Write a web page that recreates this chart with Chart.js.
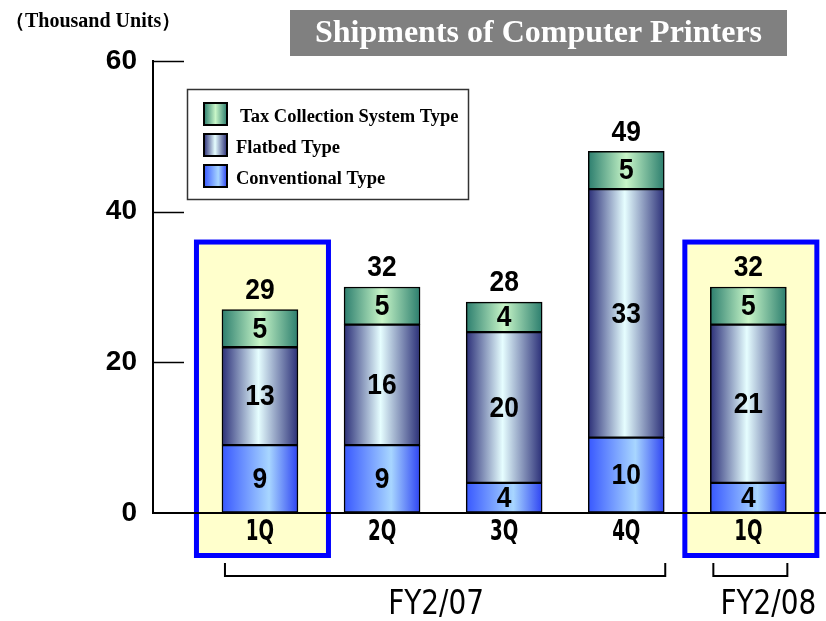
<!DOCTYPE html>
<html>
<head>
<meta charset="utf-8">
<title>Shipments of Computer Printers</title>
<script src="https://cdn.jsdelivr.net/npm/chart.js@4.4.1/dist/chart.umd.min.js"></script>
<style>
  html, body { margin: 0; padding: 0; background: #fff; }
  #printers { display: block; }
</style>
</head>
<body>
<canvas id="printers" width="826" height="621"></canvas>
<script>
// quarterly shipments, thousand units
var quarters = ['1Q', '2Q', '3Q', '4Q', '1Q'];
var conventional = [9, 9, 4, 10, 4];
var flatbed = [13, 16, 20, 33, 21];
var taxCollection = [5, 5, 4, 5, 5];
var totals = [29, 32, 28, 49, 32];
var yTicks = [0, 20, 40, 60];
var fiscalYears = ['FY2/07', 'FY2/08'];
var fiscalSpans = [[0, 3], [4, 4]];
var highlighted = [0, 4];

var SANS = "'Liberation Sans', Arial, sans-serif";
var COND = "'DejaVu Sans Condensed', 'DejaVu Sans', sans-serif";
var SERIF = "'Liberation Serif', 'Times New Roman', serif";
var BAR_W = 76;

var gradStops = {
    conv: [[0, '#3858ff'], [0.62, '#a8d6ff'], [1, '#2e44f2']],
    flat: [[0, '#2b2f78'], [0.48, '#e6feff'], [1, '#2b2f78']],
    tax: [[0, '#2c7e6e'], [0.5, '#c8f6c8'], [1, '#2c7e6e']]
};

function hGradient(ctx, x0, x1, stops) {
    var g = ctx.createLinearGradient(x0, 0, x1, 0);
    stops.forEach(function (s) { g.addColorStop(s[0], s[1]); });
    return g;
}

// each bar gets its own left-to-right gradient
function barFill(key) {
    return function (c) {
        var chart = c.chart;
        if (!chart.chartArea || c.dataIndex === undefined) return gradStops[key][1][1];
        var cx = chart.scales.x.getPixelForValue(c.dataIndex);
        return hGradient(chart.ctx, cx - BAR_W / 2, cx + BAR_W / 2, gradStops[key]);
    };
}

function points(arr) {
    return arr.map(function (v, i) { return { x: i, y: v }; });
}

// text squeezed horizontally, for the narrow lettering
function narrowText(ctx, text, x, y, sx) {
    ctx.save();
    ctx.translate(x, y);
    ctx.scale(sx, 1);
    ctx.fillText(text, 0, 0);
    ctx.restore();
}

var decor = {
    id: 'decor',
    beforeDraw: function (chart) {
        var ctx = chart.ctx, x = chart.scales.x, y = chart.scales.y;
        ctx.save();
        // yellow frames around the first quarters
        highlighted.forEach(function (i) {
            var cx = x.getPixelForValue(i);
            var l = cx - 63.5, r = cx + 68.5;
            var t = y.getPixelForValue(36.3) + 2.5, b = y.bottom + 42.5;
            ctx.fillStyle = '#ffffcc';
            ctx.fillRect(l, t, r - l, b - t);
            ctx.strokeStyle = '#0000ff';
            ctx.lineWidth = 5;
            ctx.strokeRect(l, t, r - l, b - t);
        });
        ctx.restore();
    },
    afterDatasetsDraw: function (chart) {
        var ctx = chart.ctx, x = chart.scales.x, y = chart.scales.y;
        ctx.save();
        ctx.fillStyle = '#000';
        ctx.textAlign = 'center';
        ctx.textBaseline = 'middle';
        ctx.font = 'bold 30px ' + SANS;
        chart.data.datasets.forEach(function (ds, d) {
            chart.getDatasetMeta(d).data.forEach(function (el, i) {
                narrowText(ctx, String(ds.data[i].y), el.x, (el.y + el.base) / 2 + 1, 0.88);
            });
        });
        var top = chart.getDatasetMeta(chart.data.datasets.length - 1).data;
        top.forEach(function (el, i) {
            narrowText(ctx, String(totals[i]), el.x, el.y - 19, 0.88);
        });

        // quarter labels under the axis
        ctx.font = 'bold 29px ' + COND;
        quarters.forEach(function (q, i) {
            narrowText(ctx, q, x.getPixelForValue(i), y.bottom + 19, 0.7);
        });

        // short ticks pointing into the plot
        ctx.strokeStyle = '#000';
        ctx.lineWidth = 1.5;
        yTicks.forEach(function (v) {
            if (v === 0) return;
            var py = Math.round(y.getPixelForValue(v)) + 0.5;
            ctx.beginPath();
            ctx.moveTo(y.right, py);
            ctx.lineTo(y.right + 31, py);
            ctx.stroke();
        });
        ctx.restore();
    },
    afterDraw: function (chart) {
        var ctx = chart.ctx, x = chart.scales.x, y = chart.scales.y;
        ctx.save();

        // fiscal year brackets
        ctx.strokeStyle = '#000';
        ctx.lineWidth = 2;
        ctx.fillStyle = '#000';
        ctx.textAlign = 'center';
        ctx.textBaseline = 'alphabetic';
        ctx.font = '33px ' + COND;
        fiscalSpans.forEach(function (s, k) {
            var l = x.getPixelForValue(s[0]) - BAR_W / 2 + 3;
            var r = x.getPixelForValue(s[1]) + BAR_W / 2 + 1;
            var yb = y.bottom;
            ctx.beginPath();
            ctx.moveTo(l, yb + 50);
            ctx.lineTo(l, yb + 63);
            ctx.lineTo(r, yb + 63);
            ctx.lineTo(r, yb + 50);
            ctx.stroke();
            var nudge = k === 0 ? -9 : 18;
            narrowText(ctx, fiscalYears[k], (l + r) / 2 + nudge, yb + 101, 0.94);
        });

        // legend, top series first
        ctx.fillStyle = '#fff';
        ctx.fillRect(187.5, 89.5, 281, 110);
        ctx.strokeStyle = '#333';
        ctx.lineWidth = 1.5;
        ctx.strokeRect(187.5, 89.5, 281, 110);
        var keys = ['tax', 'flat', 'conv'];
        var sets = chart.data.datasets.slice().reverse();
        ctx.textAlign = 'left';
        ctx.font = 'bold 18.5px ' + SERIF;
        sets.forEach(function (ds, i) {
            var sy = 103 + i * 31;
            ctx.fillStyle = hGradient(ctx, 204, 227, gradStops[keys[i]]);
            ctx.fillRect(204, sy, 23, 22);
            ctx.strokeStyle = '#000';
            ctx.lineWidth = 2;
            ctx.strokeRect(204, sy, 23, 22);
            ctx.fillStyle = '#000';
            ctx.fillText(ds.label, i === 0 ? 240 : 236, sy + 19);
        });

        // title banner
        ctx.fillStyle = '#808080';
        ctx.fillRect(290, 10, 497, 46);
        ctx.fillStyle = '#fff';
        ctx.textAlign = 'center';
        ctx.font = 'bold 32px ' + SERIF;
        ctx.fillText('Shipments of Computer Printers', 538.5, 42);

        // unit caption
        ctx.fillStyle = '#000';
        ctx.textAlign = 'left';
        ctx.font = 'bold 20px ' + SERIF;
        ctx.fillText('（Thousand Units）', 5, 27);
        ctx.restore();
    }
};

var ctx = document.getElementById('printers').getContext('2d');

var printers = new Chart(ctx, {
    type: 'bar',
    data: {
        datasets: [
            {
                label: 'Conventional Type',
                data: points(conventional),
                backgroundColor: barFill('conv')
            },
            {
                label: 'Flatbed Type',
                data: points(flatbed),
                backgroundColor: barFill('flat')
            },
            {
                label: 'Tax Collection System Type',
                data: points(taxCollection),
                backgroundColor: barFill('tax')
            }
        ]
    },
    options: {
        responsive: false,
        animation: false,
        layout: { padding: { top: 61, left: 0, right: 0, bottom: 0 } },
        datasets: {
            bar: {
                barThickness: BAR_W,
                borderColor: '#000',
                borderWidth: 1.5,
                borderSkipped: false
            }
        },
        plugins: {
            legend: { display: false },
            tooltip: { enabled: false }
        },
        scales: {
            x: {
                type: 'linear',
                stacked: true,
                offset: false,
                min: -0.876,
                max: 4.636,
                afterBuildTicks: function (axis) {
                    axis.ticks = quarters.map(function (q, i) { return { value: i }; });
                },
                afterFit: function (scale) { scale.height = 108; },
                grid: { drawOnChartArea: false, drawTicks: false, offset: false },
                border: { display: true, color: '#000', width: 2 },
                ticks: { display: false }
            },
            y: {
                stacked: true,
                min: 0,
                max: 60,
                afterBuildTicks: function (axis) {
                    axis.ticks = yTicks.map(function (v) { return { value: v }; });
                },
                afterFit: function (scale) { scale.width = 153; },
                grid: { drawOnChartArea: false, drawTicks: false },
                border: { display: true, color: '#000', width: 2 },
                ticks: {
                    padding: 16,
                    color: '#000',
                    font: { family: SANS, size: 28, weight: 'bold' }
                }
            }
        }
    },
    plugins: [decor]
});
</script>
</body>
</html>
